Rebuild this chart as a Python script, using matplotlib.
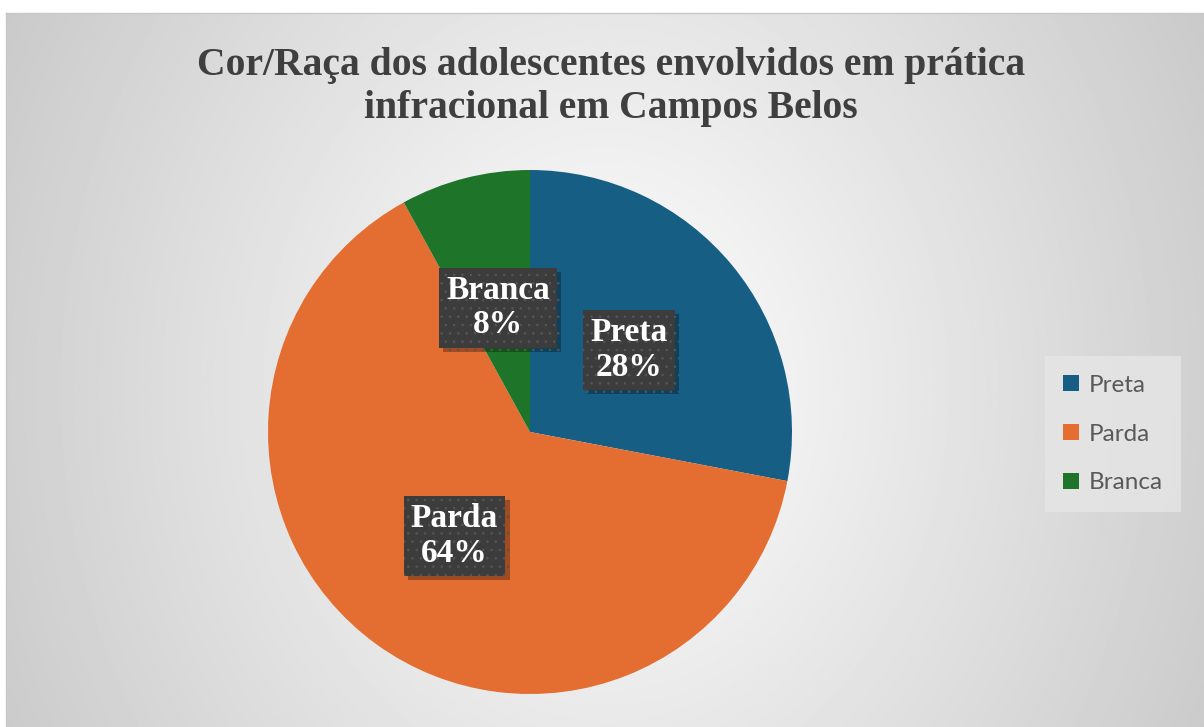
import numpy as np
import matplotlib
matplotlib.use("Agg")
import matplotlib.pyplot as plt
from matplotlib import patheffects as pe

# dados
categorias = ["Preta", "Parda", "Branca"]
percentuais = [28, 64, 8]
cores = ["#175E84", "#E46D31", "#1E7428"]

titulo = "Cor/Raça dos adolescentes envolvidos em prática\ninfracional em Campos Belos"

plt.rcParams["hatch.linewidth"] = 0.6

W, H = 1204, 727
fig = plt.figure(figsize=(W / 100, H / 100), dpi=100)
fig.patch.set_facecolor("white")

# fundo com gradiente radial
bg = fig.add_axes([6 / W, 0, (W - 6) / W, (H - 13) / H])
yy, xx = np.mgrid[0:400, 0:700]
r = np.hypot((xx - 350) / 350, (yy - 210) / 400)
grad = 1 - 0.24 * np.clip(r / 1.3, 0, 1)
bg.imshow(grad, cmap="gray", vmin=0, vmax=1, aspect="auto",
          extent=[0, 1, 0, 1], interpolation="bilinear")
bg.set_xticks([])
bg.set_yticks([])
for s in ["right", "bottom"]:
    bg.spines[s].set_visible(False)
for s in ["top", "left"]:
    bg.spines[s].set_color("#C8C8C8")
    bg.spines[s].set_linewidth(1)

fig.text(611 / W, 1 - 87 / H, titulo, ha="center", va="center",
         fontsize=28.5, fontweight="bold", family="Liberation Serif",
         color="#3F3F3F", linespacing=1.22)

# pizza
cx, cy, rad = 530, 432, 262
ax = fig.add_axes([(cx - rad) / W, (H - cy - rad) / H, 2 * rad / W, 2 * rad / H])
ax.set_axis_off()
wedges, textos = ax.pie(percentuais, colors=cores, startangle=90, counterclock=False,
                        labels=[f"{c}\n{p}%" for c, p in zip(categorias, percentuais)],
                        labeldistance=0.49, radius=1,
                        wedgeprops=dict(linewidth=0))
ax.set_xlim(-1, 1)
ax.set_ylim(-1, 1)
for t in textos:
    t.set_ha("center")
    t.set_va("center")
    t.set_color("white")
    t.set_fontsize(24)
    t.set_fontweight("bold")
    t.set_family("Liberation Serif")
    t.set_linespacing(1.14)
    t.set_bbox(dict(boxstyle="square,pad=0.22", fc="#3C3C3C", ec="#555555",
                    hatch="..", lw=0))
    t.get_bbox_patch().set_path_effects([
        pe.SimplePatchShadow(offset=(3, -3), shadow_rgbFace="black", alpha=0.3),
        pe.Normal()])

leg = fig.legend(wedges, categorias, loc="center", bbox_to_anchor=(1113 / W, 1 - 434 / H),
                 frameon=True, fancybox=False, handlelength=0.65, handleheight=0.65,
                 handletextpad=0.4, labelspacing=1.15, borderpad=0.75,
                 prop=dict(family="Lato", size=17.5))
leg.get_frame().set_facecolor("#E6E6E6")
leg.get_frame().set_edgecolor("none")
for t in leg.get_texts():
    t.set_color("#595959")

fig.savefig("out.png", dpi=100)
